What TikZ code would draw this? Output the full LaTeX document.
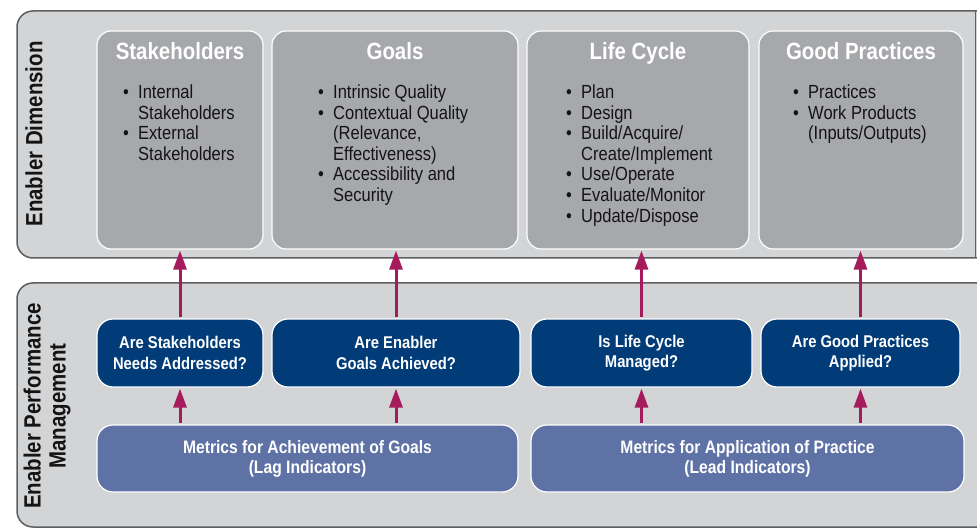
\documentclass[tikz,border=0pt]{standalone}
\usepackage{fontspec}
\setmainfont{Liberation Sans}[FakeStretch=0.87]
\usepackage{tkz-euclide}
\usetikzlibrary{positioning,arrows.meta}

\definecolor{panelgray}{HTML}{D3D4D6}
\definecolor{panelline}{HTML}{5E5F61}
\definecolor{boxgray}{HTML}{A7A8AB}
\definecolor{navyblue}{HTML}{013C79}
\definecolor{metblue}{HTML}{5F72A6}
\definecolor{arrowred}{HTML}{A51B5C}
\newcommand\bpt{\makebox[15pt][l]{\textbullet}}
\newcommand\bcont{\hspace*{15pt}}

\begin{document}
\begin{tikzpicture}[
    x=1pt, y=-1pt,
    panel/.style={fill=panelgray, draw=panelline, line width=1.5pt, rounded corners=16pt},
    dimbox/.style={fill=boxgray, draw=white, line width=1.2pt, rounded corners=14pt, inner sep=0pt},
    askbox/.style={fill=navyblue, draw=white, line width=1.2pt, rounded corners=16pt,
      inner sep=0pt, minimum height=68pt, text=white, align=center,
      font=\bfseries\fontsize{17}{20.5}\selectfont},
    metbox/.style={fill=metblue, draw=white, line width=1.2pt, rounded corners=16pt,
      inner sep=0pt, minimum height=67pt, text=white, align=center,
      font=\bfseries\fontsize{18}{20}\selectfont},
    ttl/.style={text=white, inner sep=0pt, font=\bfseries\fontsize{23.5}{25}\selectfont},
    blist/.style={anchor=north west, inner sep=0pt, align=left, text=black!92,
      font=\fontsize{19}{20.6}\selectfont},
    side/.style={rotate=90, align=center, inner sep=0pt, text=black!92,
      font=\bfseries\fontsize{23.5}{25}\selectfont},
    up/.style={-{Triangle[length=19pt,width=13pt]}, draw=arrowred, line width=3pt,
      shorten <=1pt, shorten >=1pt}
  ]
    % 画布大小
    \useasboundingbox (0,0) rectangle (977,529);
    % 两个底板(右边超出画布)
    \draw[panel] (17,11) rectangle (1000,258);
    \draw[panelline, line width=1.5pt] (975.5,11) -- (975.5,258);
    \draw[panel] (17,283) rectangle (1000,527);
    % 底板侧面文字
    \node[side] (dim-l) at (34,134) {Enabler Dimension};
    \node[side] (perf-l) at (47,406) {Enabler Performance\\Management};

    % 第一行:四个灰色框
    \node[dimbox, minimum width=166pt, minimum height=218pt] (stk) at (180,140) {};
    \node[dimbox, minimum width=246pt, minimum height=218pt] (gol) at (395,140) {};
    \node[dimbox, minimum width=222pt, minimum height=218pt] (lfc) at (638,140) {};
    \node[dimbox, minimum width=204pt, minimum height=218pt] (gpr) at (861,140) {};
    % 灰色框标题
    \node[ttl, below=11.5pt of stk.north] (stk-t) {Stakeholders};
    \node[ttl, below=11.5pt of gol.north] (gol-t) {Goals};
    \node[ttl, below=11.5pt of lfc.north] (lfc-t) {Life Cycle};
    \node[ttl, below=11.5pt of gpr.north] (gpr-t) {Good Practices};
    % 列表的起点
    \tkzDefPoints{123/84.5/L1, 318/84.5/L2, 566/84.5/L3, 793/84.5/L4}
    % 灰色框中的列表
    \node[blist] (stk-b) at (L1) {\bpt Internal\\\bcont Stakeholders\\
      \bpt External\\\bcont Stakeholders};
    \node[blist] (gol-b) at (L2) {\bpt Intrinsic Quality\\\bpt Contextual Quality\\
      \bcont (Relevance,\\\bcont Effectiveness)\\\bpt Accessibility and\\\bcont Security};
    \node[blist] (lfc-b) at (L3) {\bpt Plan\\\bpt Design\\\bpt Build/Acquire/\\
      \bcont Create/Implement\\\bpt Use/Operate\\\bpt Evaluate/Monitor\\\bpt Update/Dispose};
    \node[blist] (gpr-b) at (L4) {\bpt Practices\\\bpt Work Products\\
      \bcont (Inputs/Outputs)};

    % 第二行:四个问题框
    \node[askbox, minimum width=166pt] (q1) at (180,353) {Are Stakeholders\\Needs Addressed?};
    \node[askbox, minimum width=248pt] (q2) at (396,353) {Are Enabler\\Goals Achieved?};
    \node[askbox, minimum width=221pt] (q3) at (641.5,353) {Is Life Cycle\\Managed?};
    \node[askbox, minimum width=199pt] (q4) at (860.5,353) {Are Good Practices\\Applied?};

    % 第三行:两个度量框
    \node[metbox, minimum width=421pt] (m1) at (307.5,458.5)
      {Metrics for Achievement of Goals\\(Lag Indicators)};
    \node[metbox, minimum width=433pt] (m2) at (747.5,458.5)
      {Metrics for Application of Practice\\(Lead Indicators)};

    % 箭头:问题框指向灰色框
    \draw[up] (q1.north) -- (q1.north |- stk.south);
    \draw[up] (q2.north) -- (q2.north |- gol.south);
    \draw[up] (q3.north) -- (q3.north |- lfc.south);
    \draw[up] (q4.north) -- (q4.north |- gpr.south);
    % 箭头:度量框指向问题框
    \draw[up] (q1.south |- m1.north) -- (q1.south);
    \draw[up] (q2.south |- m1.north) -- (q2.south);
    \draw[up] (q3.south |- m2.north) -- (q3.south);
    \draw[up] (q4.south |- m2.north) -- (q4.south);
\end{tikzpicture}
\end{document}
